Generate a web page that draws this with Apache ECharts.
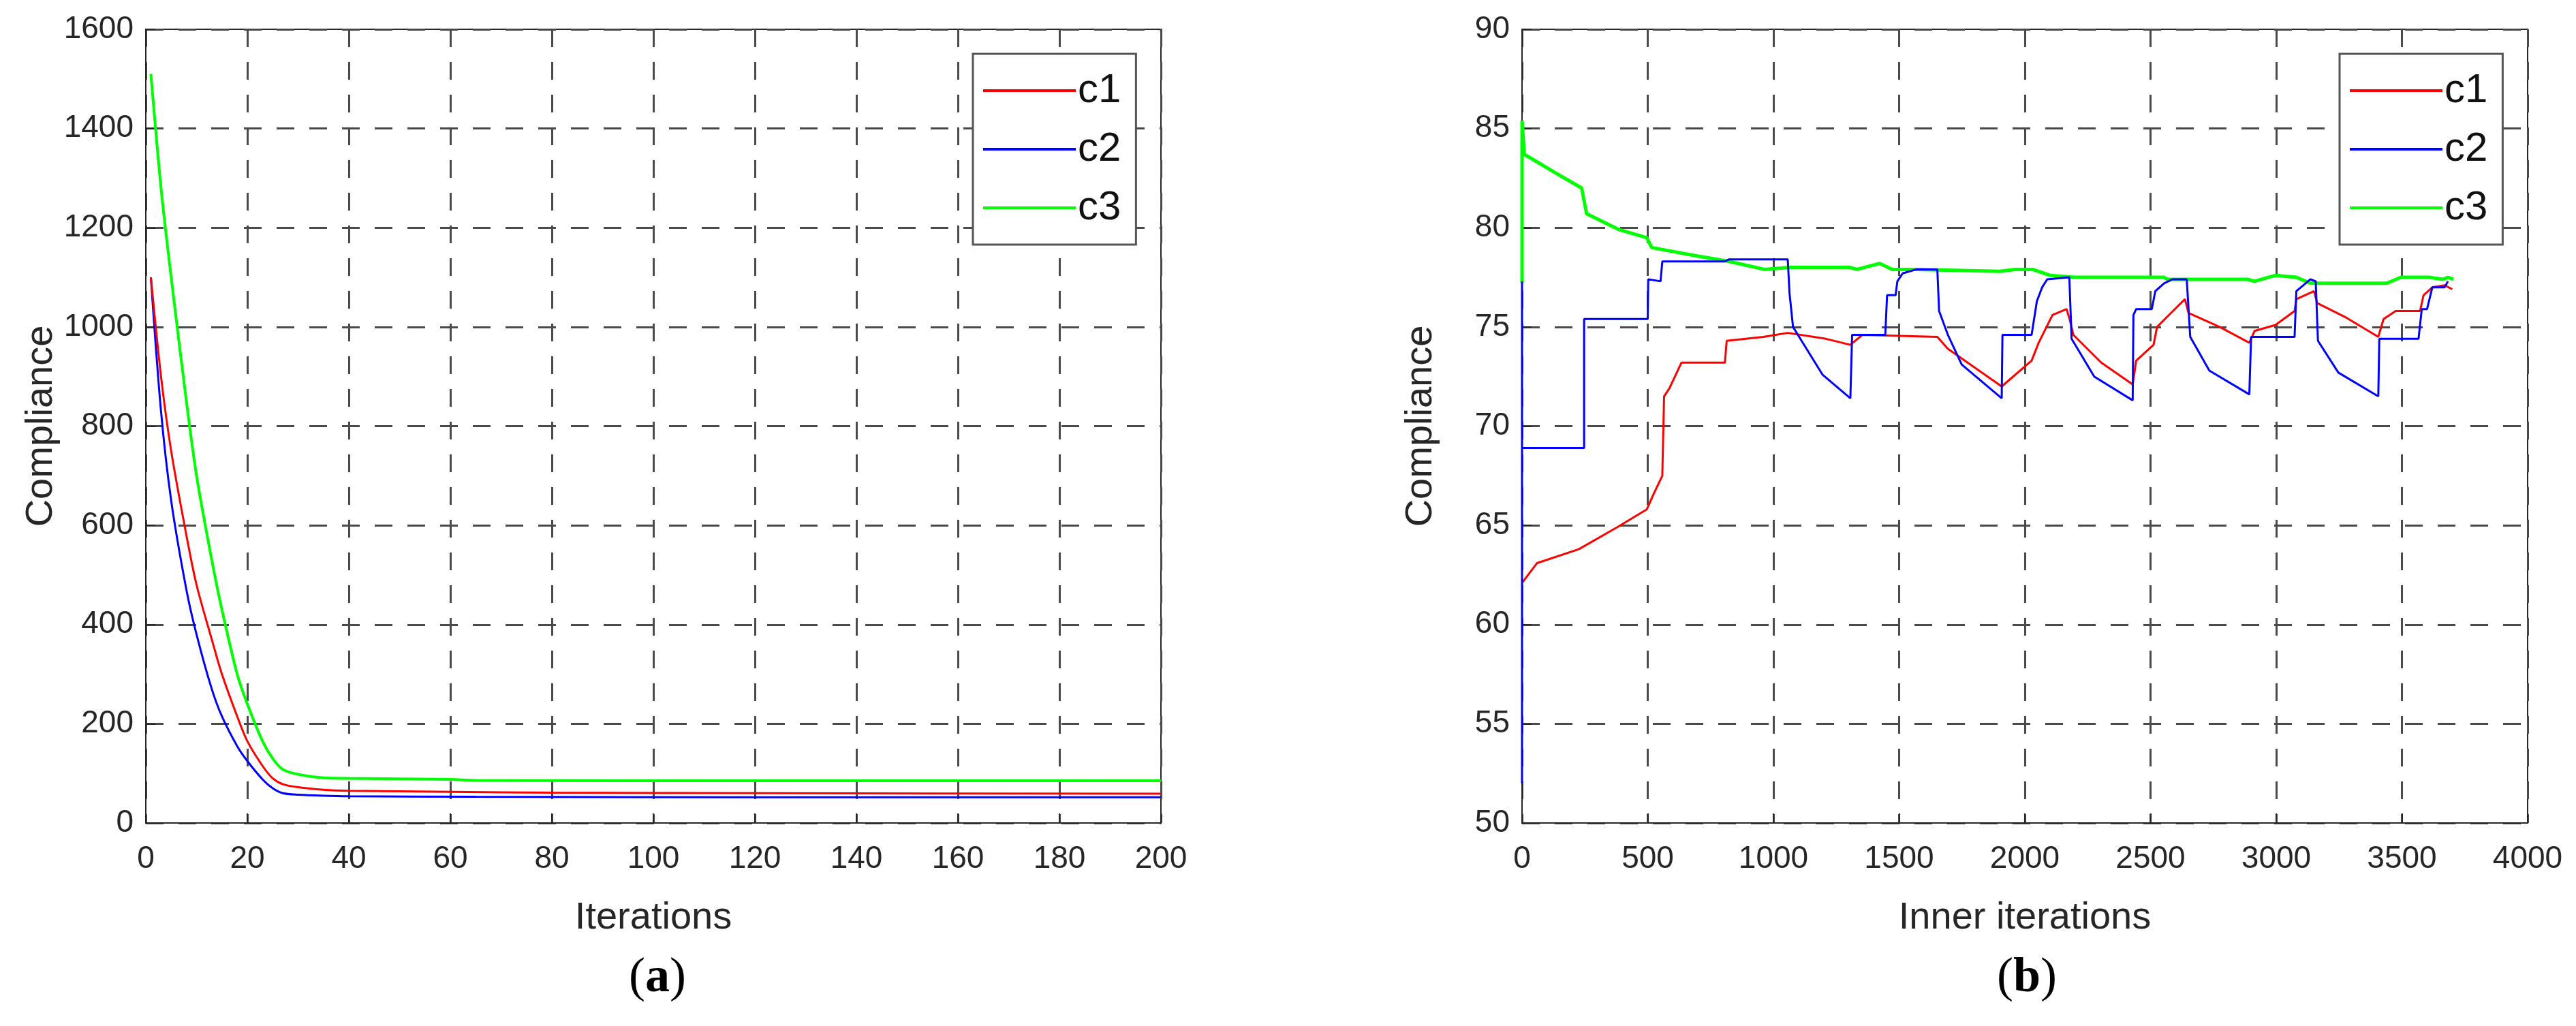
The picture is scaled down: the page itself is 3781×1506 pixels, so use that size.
<!DOCTYPE html>
<html><head><meta charset="utf-8">
<script src="https://cdn.jsdelivr.net/npm/echarts@6/dist/echarts.min.js"></script>
<style>html,body{margin:0;padding:0;background:#fff}#c{width:3781px;height:1506px}</style>
</head><body><div id="c"></div>
<script>
const seriesNames = ['c1','c2','c3'];
const colors = ['#ff0000','#0000ff','#00ff00'];
const xTicksA = [0,20,40,60,80,100,120,140,160,180,200];
const yTicksA = [0,200,400,600,800,1000,1200,1400,1600];
// Panel (a): [iteration, compliance]
const a_c1 = [[1,1100],[3,900],[5,750],[8,580],[10,480],[13,370],[15,300],[18,215],[20,165],[23,115],[25,90],[27,78],[30,72],[35,67],[40,65],[60,63],[80,61],[120,60],[200,59]];
const a_c2 = [[1,1100],[3,830],[5,650],[8,470],[10,380],[13,270],[15,215],[18,155],[20,125],[23,88],[25,70],[27,60],[30,57],[35,55],[40,54],[65,53],[120,52],[200,52]];
const a_c3 = [[1,1510],[3,1280],[5,1100],[8,850],[10,700],[13,530],[15,430],[18,300],[20,240],[23,165],[25,130],[27,108],[30,98],[35,91],[40,90],[60,88],[65,86],[120,85],[200,85]];
// Panel (b): [inner iteration, compliance]
const b_c1 = [[0,62.1],[60,63.1],[226,63.8],[378,64.9],[496,65.8],[524,66.6],[558,67.5],[565,71.5],[586,71.9],[634,73.2],[807,73.2],[814,74.3],[960,74.5],[1057,74.7],[1209,74.4],[1306,74.1],[1354,74.6],[1652,74.5],[1694,73.9],[1908,72.0],[2027,73.3],[2055,74.2],[2110,75.6],[2166,75.9],[2180,75.3],[2193,74.6],[2304,73.2],[2429,72.1],[2443,73.3],[2512,74.1],[2526,75.0],[2581,75.7],[2637,76.4],[2651,75.7],[2775,75.0],[2893,74.2],[2914,74.8],[2997,75.1],[3073,75.8],[3080,76.4],[3150,76.8],[3163,76.2],[3274,75.5],[3406,74.5],[3427,75.4],[3475,75.8],[3572,75.8],[3586,76.6],[3621,77.0],[3670,77.1],[3700,76.9]];
const b_c2 = [[0,52],[0,77.3],[0,68.9],[247,68.9],[247,75.4],[500,75.4],[502,77.4],[551,77.3],[558,78.3],[807,78.3],[822,78.4],[1057,78.4],[1064,76.7],[1078,75.0],[1112,74.3],[1195,72.6],[1306,71.4],[1313,74.6],[1445,74.6],[1452,76.6],[1486,76.6],[1493,77.3],[1514,77.7],[1569,77.9],[1652,77.9],[1659,75.8],[1694,74.6],[1749,73.1],[1908,71.4],[1911,74.6],[2027,74.6],[2048,76.3],[2069,77.0],[2089,77.4],[2177,77.5],[2186,74.4],[2276,72.5],[2429,71.3],[2432,75.6],[2443,75.9],[2505,75.9],[2519,76.8],[2554,77.2],[2588,77.4],[2644,77.4],[2658,74.5],[2734,72.8],[2893,71.6],[2900,74.5],[3073,74.5],[3080,76.8],[3136,77.4],[3157,77.3],[3166,74.3],[3247,72.7],[3406,71.5],[3410,74.4],[3566,74.4],[3579,75.9],[3600,75.9],[3621,77.0],[3670,77.0],[3683,77.3]];
const b_c3 = [[0,77.2],[0,85.4],[9,83.7],[128,82.8],[237,82.0],[257,80.7],[387,79.9],[496,79.5],[516,79.0],[685,78.6],[824,78.3],[964,77.9],[1064,78.0],[1303,78.0],[1333,77.9],[1423,78.2],[1473,77.9],[1562,77.9],[1901,77.8],[1961,77.9],[2031,77.9],[2100,77.6],[2200,77.5],[2429,77.5],[2554,77.5],[2568,77.4],[2886,77.4],[2914,77.3],[2997,77.6],[3080,77.5],[3136,77.2],[3440,77.2],[3496,77.5],[3607,77.5],[3663,77.4],[3683,77.5],[3705,77.4]];

const F = '"Liberation Sans",Arial,sans-serif';
const grids = [
  {left:214,right:3781-1704,top:43,bottom:1506-1208,show:true,borderColor:'#262626',borderWidth:2},
  {left:2234,right:3781-3710,top:43,bottom:1506-1208,show:true,borderColor:'#262626',borderWidth:2}
];
const fmt = v => String(v);
function xAx(i,max,interval,name){return {type:'value',gridIndex:i,min:0,max:max,interval:interval,name:name,nameLocation:'middle',nameGap:112,
  nameTextStyle:{fontFamily:F,fontSize:56,color:'#262626'},
  axisLine:{lineStyle:{color:'#262626',width:2}},axisTick:{inside:true,length:14,lineStyle:{color:'#262626',width:2}},
  axisLabel:{fontFamily:F,fontSize:46,color:'#262626',margin:30,formatter:fmt},
  splitLine:{show:true,lineStyle:{type:[26,22],color:'#4a4a4a',width:3}}};}
function yAx(i,min,max,interval){return {type:'value',gridIndex:i,min:min,max:max,interval:interval,name:'Compliance',nameLocation:'middle',nameGap:i==0?125:120,
  nameTextStyle:{fontFamily:F,fontSize:56,color:'#262626'},
  axisLine:{lineStyle:{color:'#262626',width:2}},axisTick:{inside:true,length:14,lineStyle:{color:'#262626',width:2}},
  axisLabel:{fontFamily:F,fontSize:46,color:'#262626',margin:18,formatter:fmt},
  splitLine:{show:true,lineStyle:{type:[26,22],color:'#4a4a4a',width:3}}};}
const dataA=[a_c1,a_c2,a_c3], dataB=[b_c1,b_c2,b_c3];
const series=[];
for(let k=0;k<3;k++){
  series.push({name:seriesNames[k],type:'line',xAxisIndex:0,yAxisIndex:0,data:dataA[k],showSymbol:false,smooth:0.3,lineStyle:{color:colors[k],width:k==2?4:3},itemStyle:{color:colors[k]},animation:false,z:3-k});
}
for(let k=0;k<3;k++){
  series.push({name:seriesNames[k],type:'line',xAxisIndex:1,yAxisIndex:1,data:dataB[k],showSymbol:false,lineStyle:{color:colors[k],width:k==2?5:3},itemStyle:{color:colors[k]},animation:false,z:k==2?2:3});
}
function legend(left){return {orient:'vertical',left:left,top:79,padding:[24,22,24,15],itemGap:26,itemWidth:136,itemHeight:4,
  backgroundColor:'#fff',borderColor:'#555',borderWidth:3,icon:'rect',data:seriesNames,
  textStyle:{fontFamily:F,fontSize:60,color:'#111',padding:[0,0,0,-2]},selectedMode:false};}
const capRich={p:{fontFamily:'"Liberation Serif",serif',fontSize:72,fontWeight:'normal',color:'#000'},l:{fontFamily:'"Liberation Serif",serif',fontSize:72,fontWeight:'bold',color:'#000'}};
const chart=echarts.init(document.getElementById('c'),null,{renderer:'canvas'});
chart.setOption({
  animation:false,backgroundColor:'#fff',
  grid:grids,
  xAxis:[xAx(0,200,20,'Iterations'),xAx(1,4000,500,'Inner iterations')],
  yAxis:[yAx(0,0,1600,200),yAx(1,50,90,5)],
  legend:[legend(1428),legend(3434)],
  title:[
    {text:'{p|(}{l|a}{p|)}',left:960,top:1395,textAlign:'center',textStyle:{rich:capRich}},
    {text:'{p|(}{l|b}{p|)}',left:2970,top:1395,textAlign:'center',textStyle:{rich:capRich}}
  ],
  series:series
});
</script></body></html>
